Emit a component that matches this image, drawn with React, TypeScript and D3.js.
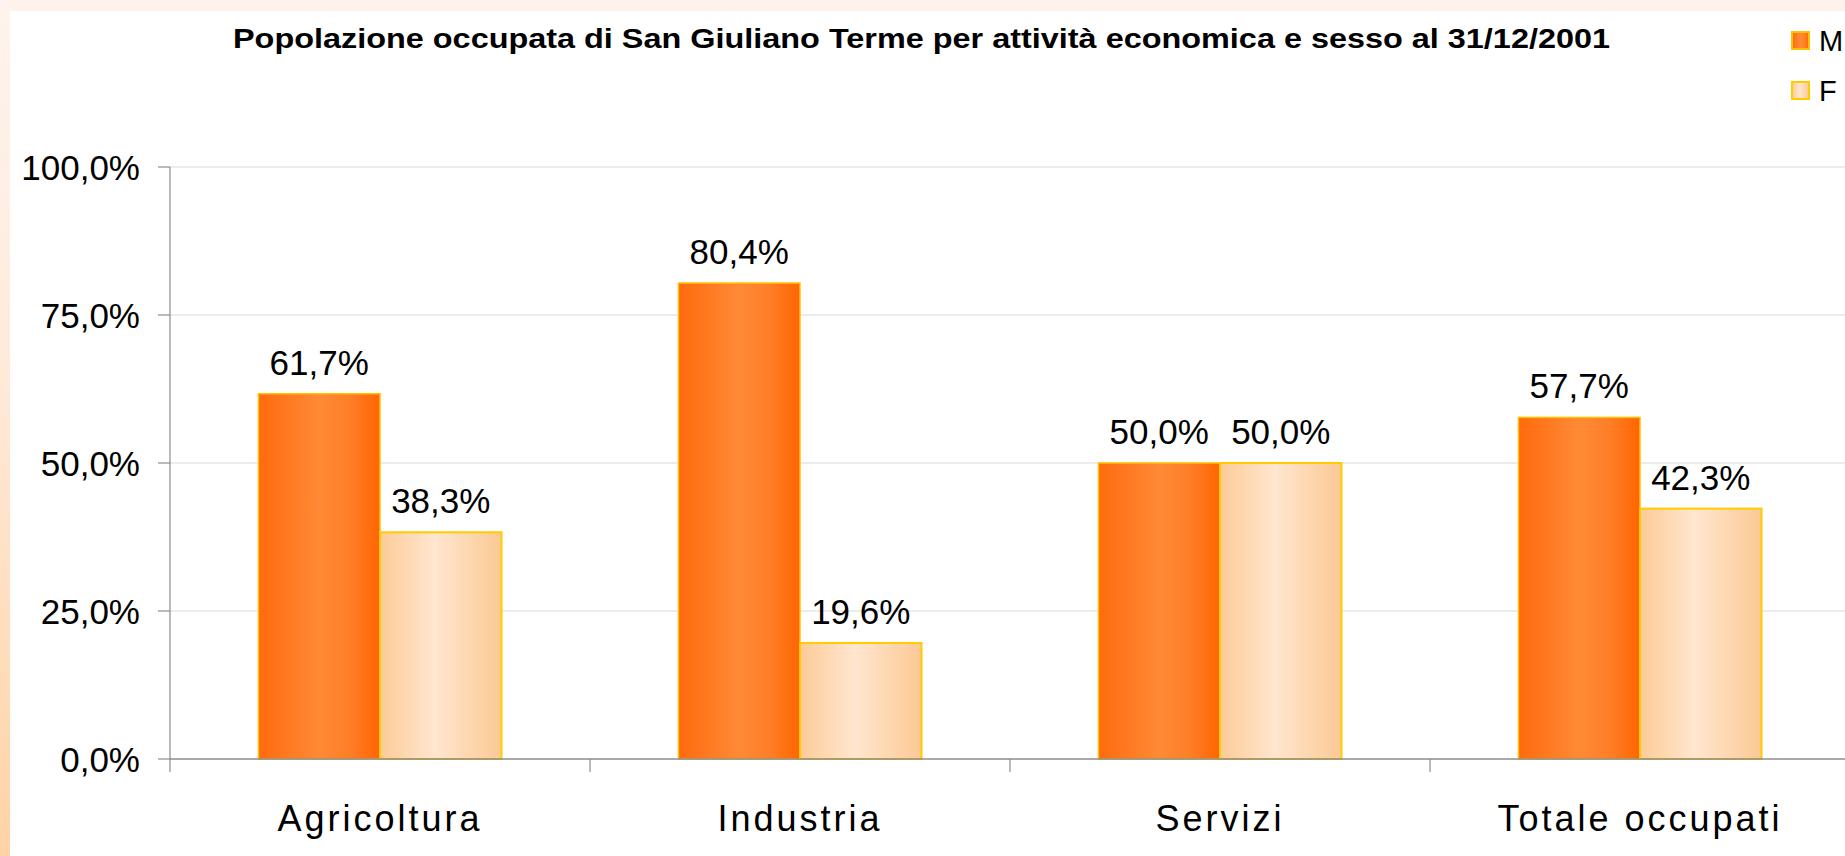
import React from "react";
import * as d3 from "d3";

const title = "Popolazione occupata di San Giuliano Terme per attività economica e sesso al 31/12/2001";
const categories = ["Agricoltura", "Industria", "Servizi", "Totale occupati"];
const seriesNames = ["M", "F"];
const valuesM = [0.617, 0.804, 0.5, 0.577];
const valuesF = [0.383, 0.196, 0.5, 0.423];
const yTicks = [0, 0.25, 0.5, 0.75, 1];

const W = 1845;
const H = 856;
const FONT = "'Liberation Sans', Arial, sans-serif";

const locale = d3.formatLocale({ decimal: ",", thousands: ".", grouping: [3], currency: ["€", ""] });
const fmt = locale.format(".1%");

export default function App() {
  const plotLeft = 170;
  const plotRight = 1850;
  const x0 = d3.scaleBand<string>().domain(categories).range([plotLeft, plotRight]).padding(0);
  const x1 = d3.scaleBand<string>().domain(seriesNames).range([0, x0.bandwidth()]).paddingInner(0).paddingOuter(0.728);
  const y = d3.scaleLinear().domain([0, 1]).range([759, 167]);
  const series = [
    { name: "M", values: valuesM, fill: "url(#gradM)", stroke: "#FFC000", sw: 1.5 },
    { name: "F", values: valuesF, fill: "url(#gradF)", stroke: "#FFCC00", sw: 2 },
  ];
  const y0 = y(0);

  return (
    <div style={{ position: "absolute", left: 0, top: 0 }}>
      <svg width={W} height={H} style={{ display: "block" }}>
        <defs>
          <linearGradient id="gradM" x1="0" x2="1" y1="0" y2="0">
            <stop offset="0" stopColor="#FF6A0E" />
            <stop offset="0.5" stopColor="#FF8A36" />
            <stop offset="0.75" stopColor="#FF7E28" />
            <stop offset="1" stopColor="#FF6500" />
          </linearGradient>
          <linearGradient id="gradF" x1="0" x2="1" y1="0" y2="0">
            <stop offset="0" stopColor="#FCCB97" />
            <stop offset="0.45" stopColor="#FFE6CF" />
            <stop offset="1" stopColor="#FBC994" />
          </linearGradient>
          <linearGradient id="gradLeft" x1="0" x2="0" y1="0" y2="1">
            <stop offset="0" stopColor="#FEF3EE" />
            <stop offset="0.4" stopColor="#FFEBDC" />
            <stop offset="1" stopColor="#FFD3A6" />
          </linearGradient>
        </defs>
        <rect x={0} y={0} width={W} height={H} fill="#FFFFFF" />
        <rect x={0} y={0} width={W} height={11} fill="#FEF2EC" />
        <rect x={0} y={0} width={10} height={H} fill="url(#gradLeft)" />

        {/* Title */}
        <text x={233} y={48} fontFamily={FONT} fontWeight="bold" fontSize={28} fill="#000"
          textLength={1377} lengthAdjust="spacingAndGlyphs">{title}</text>

        {/* Gridlines */}
        {yTicks.filter((t) => t > 0).map((t) => (
          <line key={t} x1={plotLeft} x2={plotRight} y1={y(t)} y2={y(t)} stroke="#D9D9D9" strokeWidth={1.2} />
        ))}

        {/* Y axis */}
        <line x1={plotLeft} x2={plotLeft} y1={y(1)} y2={y0} stroke="#8C8C8C" strokeWidth={1.2} />
        {yTicks.map((t) => (
          <g key={t}>
            <line x1={plotLeft - 12} x2={plotLeft} y1={y(t)} y2={y(t)} stroke="#8C8C8C" strokeWidth={1.2} />
            <text x={140} y={y(t)} dy="0.36em" textAnchor="end" fontFamily={FONT} fontSize={35} fill="#000">
              {fmt(t)}
            </text>
          </g>
        ))}

        {/* Bars */}
        {categories.map((c, i) => (
          <g key={c} transform={`translate(${x0(c)},0)`}>
            {series.map((s) => {
              const v = s.values[i];
              const bx = x1(s.name)!;
              return (
                <g key={s.name}>
                  <rect x={bx} y={y(v)} width={x1.bandwidth()} height={y0 - y(v)} fill={s.fill}
                    stroke={s.stroke} strokeWidth={s.sw} />
                  <text x={bx + x1.bandwidth() / 2} y={y(v) - 19} textAnchor="middle" fontFamily={FONT}
                    fontSize={35} fill="#000">{fmt(v)}</text>
                </g>
              );
            })}
          </g>
        ))}

        {/* X axis */}
        <line x1={plotLeft} x2={plotRight} y1={y0} y2={y0} stroke="#8C8C8C" strokeWidth={1.5} />
        {categories.map((c) => (
          <line key={c} x1={x0(c)!} x2={x0(c)!} y1={y0} y2={y0 + 13} stroke="#8C8C8C" strokeWidth={1.2} />
        ))}
        {categories.map((c) => (
          <text key={c} x={x0(c)! + x0.bandwidth() / 2} y={831} textAnchor="middle" fontFamily={FONT}
            fontSize={36} letterSpacing={3} fill="#000">{c}</text>
        ))}

        {/* Legend */}
        {series.map((s, i) => (
          <g key={s.name} transform={`translate(1792,${32 + i * 50})`}>
            <rect x={0} y={0} width={17} height={17} fill={s.fill} stroke={s.stroke} strokeWidth={2} />
            <text x={27} y={19} fontFamily={FONT} fontSize={29} fill="#000">{s.name}</text>
          </g>
        ))}
      </svg>
    </div>
  );
}
